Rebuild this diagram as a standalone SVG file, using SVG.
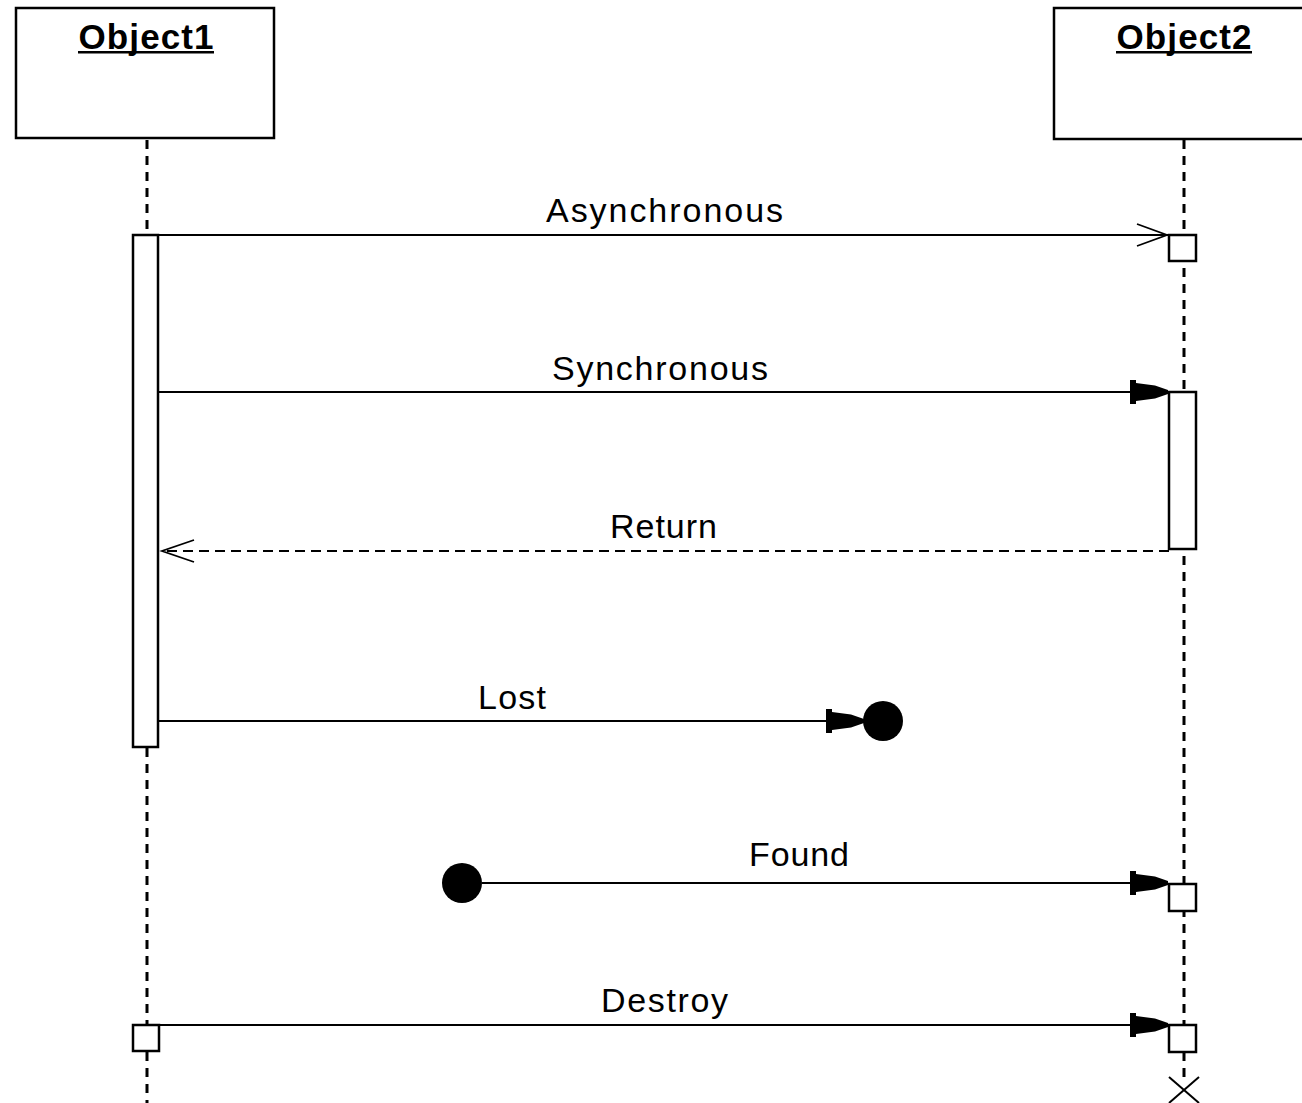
<svg xmlns="http://www.w3.org/2000/svg" width="1302" height="1103" viewBox="0 0 1302 1103">
  <style>
    .box { fill: #fff; stroke: #000; stroke-width: 2.5; }
    .act { fill: #fff; stroke: #000; stroke-width: 2.5; }
    .life { fill: none; stroke: #000; stroke-width: 3; stroke-dasharray: 9 7; }
    .msg { fill: none; stroke: #000; stroke-width: 2.2; }
    .ret { fill: none; stroke: #000; stroke-width: 2.2; stroke-dasharray: 10 6; }
    .head { fill: none; stroke: #000; stroke-width: 1.8; }
    .title { font-family: "Liberation Sans", Arial, sans-serif; font-weight: bold; font-size: 35px; text-anchor: middle; fill: #000; }
    .lbl { font-family: "Liberation Sans", Arial, sans-serif; font-size: 34px; fill: #000; }
    .dot { fill: #000; }
  </style>
  <defs>
    <!-- filled, notched arrowhead; tip at origin, pointing right -->
    <marker id="solid" markerUnits="userSpaceOnUse" viewBox="-40 -13 41 26" refX="0" refY="0" markerWidth="41" markerHeight="26" orient="auto">
      <path d="M-38,-12 L-32,-12 L-32,-9 L-13,-6.5 L0,-2 L0,2 L-13,6.5 L-32,9 L-32,12 L-38,12 Z" fill="#000"/>
    </marker>
  </defs>

  <rect width="1302" height="1103" fill="#fff"/>

  <!-- lifelines -->
  <g id="lifelines">
    <line class="life" x1="147" y1="140" x2="147" y2="1103"/>
    <line class="life" x1="1184" y1="140" x2="1184" y2="1077"/>
  </g>

  <g id="object1">
    <rect class="box" x="16" y="8" width="258" height="130"/>
    <text class="title" x="146" y="49" textLength="135">Object1</text>
    <rect x="78" y="51" width="136" height="2.5" fill="#000"/>
  </g>

  <g id="object2">
    <rect class="box" x="1054" y="8" width="260" height="131"/>
    <text class="title" x="1184" y="49" textLength="135">Object2</text>
    <rect x="1116" y="51" width="136" height="2.5" fill="#000"/>
  </g>

  <!-- activation bars and execution boxes -->
  <g id="activation1">
    <rect class="act" x="133" y="235" width="25" height="512"/>
  </g>
  <g id="activation2">
    <rect class="act" x="1169" y="392" width="27" height="157"/>
  </g>
  <g id="exec-async">
    <rect class="act" x="1169" y="235" width="27" height="26"/>
  </g>
  <g id="exec-found">
    <rect class="act" x="1169" y="884" width="27" height="27"/>
  </g>
  <g id="exec-destroy-target">
    <rect class="act" x="1169" y="1025" width="27" height="27"/>
  </g>
  <g id="exec-destroy-source">
    <rect class="act" x="133" y="1025" width="26" height="26"/>
  </g>

  <g id="lost-end">
    <circle class="dot" cx="883" cy="721" r="20"/>
  </g>
  <g id="found-start">
    <circle class="dot" cx="462" cy="883" r="20"/>
  </g>

  <g id="destroy-mark">
    <line x1="1169" y1="1077" x2="1199" y2="1103" stroke="#000" stroke-width="2"/>
    <line x1="1199" y1="1077" x2="1169" y2="1103" stroke="#000" stroke-width="2"/>
  </g>

  <!-- messages -->
  <g id="connectors">
    <line class="msg" x1="159" y1="235" x2="1168" y2="235"/>
    <polyline class="head" points="1137,224 1167,235 1137,246"/>

    <line class="msg" x1="159" y1="392" x2="1168" y2="392" marker-end="url(#solid)"/>

    <line class="ret" x1="1169" y1="551" x2="162" y2="551"/>
    <polyline class="head" points="194,540 162,551 194,562"/>

    <line class="msg" x1="159" y1="721" x2="864" y2="721" marker-end="url(#solid)"/>

    <line class="msg" x1="482" y1="883" x2="1168" y2="883" marker-end="url(#solid)"/>

    <line class="msg" x1="159" y1="1025" x2="1168" y2="1025" marker-end="url(#solid)"/>
  </g>

  <g id="labels">
    <text class="lbl" x="546" y="222" textLength="237">Asynchronous</text>
    <text class="lbl" x="552" y="380" textLength="216">Synchronous</text>
    <text class="lbl" x="610" y="538" textLength="107">Return</text>
    <text class="lbl" x="478" y="709" textLength="68">Lost</text>
    <text class="lbl" x="749" y="866" textLength="100">Found</text>
    <text class="lbl" x="601" y="1012" textLength="127">Destroy</text>
  </g>
</svg>
